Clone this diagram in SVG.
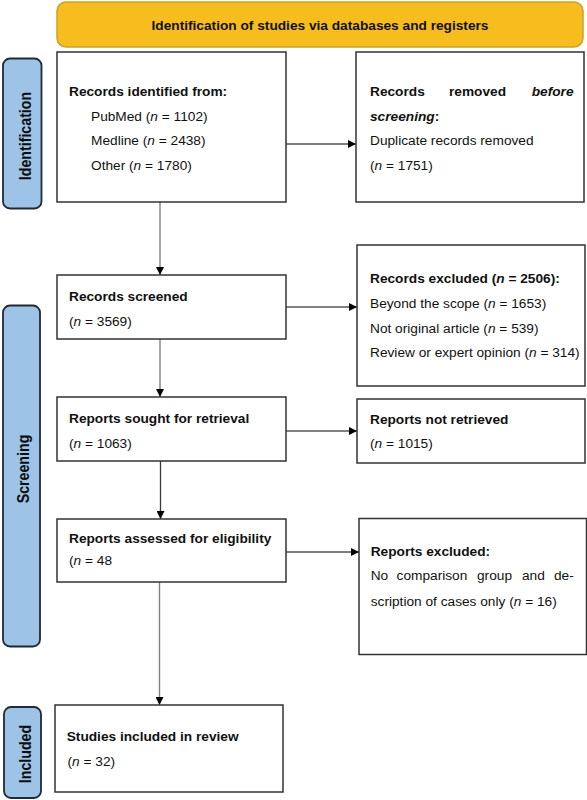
<svg xmlns="http://www.w3.org/2000/svg" width="587" height="800" viewBox="0 0 587 800">
<style>
text{font-family:"Liberation Sans",Arial,sans-serif;font-size:13.7px;fill:#111}
.b{font-weight:bold}
.i{font-style:italic}
.box{fill:#fff;stroke:#333;stroke-width:1.5}
.side{fill:#9DC3E6;stroke:#1F2A36;stroke-width:1.8}
.side text{font-weight:bold;font-size:14.2px;fill:#0d0d0d;stroke:none}
.v{stroke:#808080;stroke-width:1.4;fill:none}
.vd{stroke:#3a3a3a;stroke-width:1.3;fill:none}
.h{stroke:#000;stroke-width:1;fill:none}
</style>
<defs>
<marker id="ah" viewBox="0 0 10 10" refX="10" refY="5" markerWidth="8" markerHeight="8" markerUnits="userSpaceOnUse" orient="auto">
<path d="M0,0 L10,5 L0,10 z" fill="#000"/>
</marker>
</defs>
<rect width="587" height="800" fill="#fff"/>

<g id="banner">
<rect x="57" y="2" width="526" height="45" rx="9" fill="#F7BD1E" stroke="#C9A227" stroke-width="1.5"/>
<text class="b" x="320" y="30" text-anchor="middle">Identification of studies via databases and registers</text>
</g>

<g id="side-identification" class="side">
<rect x="3" y="58.5" width="38.5" height="150" rx="7"/>
<text transform="translate(31,136) rotate(-90) scale(1,1.15)" text-anchor="middle">Identification</text>
</g>
<g id="side-screening" class="side">
<rect x="3" y="305.5" width="37" height="341" rx="7"/>
<text transform="translate(28.5,469) rotate(-90) scale(1,1.15)" text-anchor="middle">Screening</text>
</g>
<g id="side-included" class="side">
<rect x="4" y="707" width="37" height="91" rx="7"/>
<text transform="translate(31,754) rotate(-90) scale(1,1.15)" text-anchor="middle">Included</text>
</g>

<g id="connectors">
<line class="v" x1="160" y1="202" x2="160" y2="275" marker-end="url(#ah)"/>
<line class="v" x1="160" y1="339" x2="160" y2="397" marker-end="url(#ah)"/>
<line class="vd" x1="160.5" y1="461" x2="160.5" y2="519" marker-end="url(#ah)"/>
<line class="v" x1="159.5" y1="582" x2="159.5" y2="705" marker-end="url(#ah)"/>
<line class="h" x1="286" y1="144" x2="356" y2="144" marker-end="url(#ah)"/>
<line class="h" x1="286" y1="307" x2="357" y2="307" marker-end="url(#ah)"/>
<line class="h" x1="286" y1="431" x2="357" y2="431" marker-end="url(#ah)"/>
<line class="h" x1="286" y1="552" x2="359" y2="552" marker-end="url(#ah)"/>
</g>

<g id="records-identified">
<rect class="box" x="57" y="52" width="229" height="150"/>
<text class="b" x="69" y="95.5">Records identified from:</text>
<text x="91" y="121">PubMed (<tspan class="i">n</tspan> = 1102)</text>
<text x="91" y="145">Medline (<tspan class="i">n</tspan> = 2438)</text>
<text x="91" y="169.5">Other (<tspan class="i">n</tspan> = 1780)</text>
</g>

<g id="records-removed">
<rect class="box" x="356" y="52" width="228" height="150"/>
<text class="b" x="370" y="95.5">Records</text>
<text class="b" x="449" y="95.5">removed</text>
<text class="b i" x="573.5" y="95.5" text-anchor="end">before</text>
<text class="b" x="370" y="121"><tspan class="i">screening</tspan>:</text>
<text x="370" y="145">Duplicate records removed</text>
<text x="370" y="169.5">(<tspan class="i">n</tspan> = 1751)</text>
</g>

<g id="records-screened">
<rect class="box" x="57" y="275" width="229" height="64"/>
<text class="b" x="69" y="300.5">Records screened</text>
<text x="69" y="325.5">(<tspan class="i">n</tspan> = 3569)</text>
</g>

<g id="records-excluded">
<rect class="box" x="357" y="245" width="228" height="141"/>
<text class="b" x="370" y="283">Records excluded (<tspan class="i">n</tspan> = 2506):</text>
<text x="370" y="308">Beyond the scope (<tspan class="i">n</tspan> = 1653)</text>
<text x="370" y="333">Not original article (<tspan class="i">n</tspan> = 539)</text>
<text x="370" y="357">Review or expert opinion (<tspan class="i">n</tspan> = 314)</text>
</g>

<g id="reports-sought">
<rect class="box" x="57" y="397" width="229" height="64"/>
<text class="b" x="69" y="422.5">Reports sought for retrieval</text>
<text x="69" y="447.5">(<tspan class="i">n</tspan> = 1063)</text>
</g>

<g id="reports-not-retrieved">
<rect class="box" x="357" y="399" width="228" height="64"/>
<text class="b" x="370" y="424">Reports not retrieved</text>
<text x="370" y="448">(<tspan class="i">n</tspan> = 1015)</text>
</g>

<g id="reports-assessed">
<rect class="box" x="57" y="519" width="229" height="63"/>
<text class="b" x="69" y="542.5">Reports assessed for eligibility</text>
<text x="69" y="565">(<tspan class="i">n</tspan> = 48</text>
</g>

<g id="reports-excluded">
<rect class="box" x="359" y="518.5" width="227.5" height="136"/>
<text class="b" x="370.7" y="555.5">Reports excluded:</text>
<text y="580"><tspan x="370.7">No</tspan><tspan x="396.6">comparison</tspan><tspan x="477">group</tspan><tspan x="522">and</tspan><tspan x="554">de-</tspan></text>
<text x="370.7" y="605.5">scription of cases only (<tspan class="i">n</tspan> = 16)</text>
</g>

<g id="studies-included">
<rect class="box" x="55" y="705" width="228" height="87"/>
<text class="b" x="66.7" y="740.5">Studies included in review</text>
<text x="67.5" y="766">(<tspan class="i">n</tspan> = 32)</text>
</g>
</svg>
